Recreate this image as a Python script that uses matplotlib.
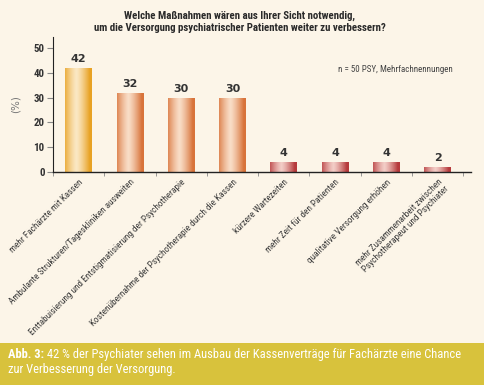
import numpy as np
import matplotlib.pyplot as plt
from matplotlib.colors import LinearSegmentedColormap

categories = [
    'mehr Fachärzte mit Kassen',
    'Ambulante Strukturen/Tageskliniken ausweiten',
    'Enttabuisierung und Entstigmatisierung der Psychotherapie',
    'Kostenübernahme der Psychotherapie durch die Kassen',
    'kürzere Wartezeiten',
    'mehr Zeit für den Patienten',
    'qualitative Versorgung erhöhen',
    'mehr Zusammenarbeit zwischen\nPsychotherapeut und Psychiater',
]
values = [42, 32, 30, 30, 4, 4, 4, 2]
groups = ['gold', 'orange', 'orange', 'orange', 'red', 'red', 'red', 'red']
yticks = [0, 10, 20, 30, 40, 50]

shades = {
    'gold': ('#e8a224', '#fbe8c4'),
    'orange': ('#d8733a', '#f9ddc6'),
    'red': ('#b63a3c', '#f3cdc6'),
}

bg = '#fcf5e8'
narrow = ['Roboto Condensed', 'DejaVu Sans']

fig = plt.figure(figsize=(4.84, 3.85), dpi=100, facecolor=bg)
ax = fig.add_axes([53 / 484, (385 - 172) / 385, (471 - 53) / 484, (172 - 37) / 385])
ax.set_facecolor(bg)

x = np.arange(len(values))
bars = ax.bar(x, values, width=0.52, color='none', edgecolor='none', zorder=2)

# cylinder-like horizontal gradient inside each bar
grad = np.abs(np.linspace(-1, 1, 64) + 0.15) ** 1.3
for b, g in zip(bars, groups):
    dark, light = shades[g]
    cmap = LinearSegmentedColormap.from_list(g, [light, dark])
    x0, y0 = b.get_x(), b.get_y()
    im = ax.imshow(grad[np.newaxis, :], cmap=cmap, aspect='auto', vmin=0, vmax=1,
                   extent=(x0, x0 + b.get_width(), y0, y0 + b.get_height()), zorder=2)
    im.set_clip_path(b)

for xi, v in zip(x, values):
    ax.annotate(str(v), (xi, v), xytext=(0, 3), textcoords='offset points',
                ha='center', va='bottom', fontsize=8, fontweight='bold',
                color='#333333', family='DejaVu Sans')

ax.set_xlim(-0.5, 7.65)
ax.set_ylim(0, 54.5)
ax.set_yticks(yticks)
ax.set_yticklabels([str(t) for t in yticks], family=narrow, fontweight='bold',
                   fontsize=7.8, color='#333333')
ax.set_xticks(np.arange(-0.5, 7.6, 1), minor=True)
ax.set_xticks(x)
ax.set_xticklabels(categories, rotation=45, ha='right', va='top',
                   rotation_mode='anchor', family=narrow, fontsize=6.7,
                   color='#3a3a3a', multialignment='right', linespacing=1.0)
ax.tick_params(axis='x', which='major', length=0, pad=4)
ax.tick_params(axis='x', which='minor', length=3, color='#888888', direction='out')
ax.tick_params(axis='y', length=4, color='#888888', pad=2)
ax.spines['top'].set_visible(False)
ax.spines['right'].set_visible(False)
ax.spines['left'].set_color('#222222')
ax.spines['bottom'].set_color('#222222')
ax.spines['left'].set_linewidth(0.8)
ax.spines['bottom'].set_linewidth(1.0)

ax.set_ylabel('(%)', family='DejaVu Sans', fontsize=7.5, color='#777777', labelpad=9)

fig.text(240 / 484, 1 - 22 / 385,
         'Welche Maßnahmen wären aus Ihrer Sicht notwendig,\n'
         'um die Versorgung psychiatrischer Patienten weiter zu verbessern?',
         ha='center', va='center', family=narrow, fontweight='bold',
         fontsize=7.8, color='#2a2a2a', linespacing=1.3)
fig.text(453 / 484, 1 - 69 / 385, 'n = 50 PSY, Mehrfachnennungen',
         ha='right', va='center', family=narrow, fontsize=6.5, color='#444444')

# caption band
band = fig.add_axes([0, 0, 1, 42 / 385])
band.set_facecolor('#d8c23c')
band.set_xticks([])
band.set_yticks([])
for s in band.spines.values():
    s.set_visible(False)
t1 = band.text(8 / 484, 0.73, 'Abb. 3:', transform=band.transAxes, ha='left',
               va='center', family=narrow, fontweight='bold', fontsize=9,
               color='white')
band.annotate(' 42 % der Psychiater sehen im Ausbau der Kassenverträge für Fachärzte eine Chance',
              xy=(1, 0.5), xycoords=t1, ha='left', va='center', family=narrow,
              fontsize=9, color='white')
band.text(8 / 484, 0.37, 'zur Verbesserung der Versorgung.',
          transform=band.transAxes, ha='left', va='center', family=narrow,
          fontsize=9, color='white')

fig.savefig('out.png', dpi=100, facecolor=bg)
